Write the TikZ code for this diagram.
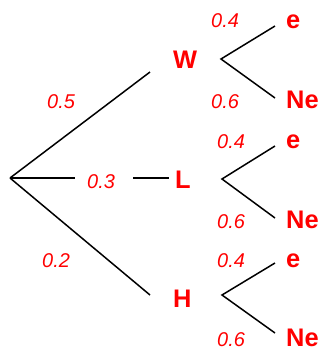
\documentclass[tikz,border=0pt]{standalone}
\usepackage{fontspec}
\setmainfont{Liberation Sans}
\begin{document}
\begin{tikzpicture}[x=1bp,y=-1bp,
  br/.style={draw=black, line width=1.5bp},
  lab/.style={text=red, font=\bfseries\fontsize{25.5}{25.5}\selectfont, inner sep=0pt, anchor=base west},
  prob/.style={text=red, font=\itshape\fontsize{20}{20}\selectfont, inner sep=0pt, anchor=base west}]
\useasboundingbox (0,0) rectangle (324,349);
% first level
\coordinate (root) at (10,178);
\coordinate (Win) at (150,72);
\coordinate (La) at (75,178);
\coordinate (Lb) at (133,178);
\coordinate (Lin) at (169,178);
\coordinate (Hin) at (150,295);
\node[lab] (W) at (173,68) {W};
\node[lab] (L) at (175,188) {L};
\node[lab] (H) at (173,307) {H};
\node[prob] (p05) at (47,108) {0.5};
\node[prob] (p03) at (87,188) {0.3};
\node[prob] (p02) at (42,267) {0.2};
\draw[br] (root) -- (Win);
\draw[br] (root) -- (La);
\draw[br] (Lb) -- (Lin);
\draw[br] (root) -- (Hin);
% second level
\coordinate (Wout) at (221,59);
\coordinate (Lout) at (222,179);
\coordinate (Hout) at (222,295);
\coordinate (We) at (275,26);
\coordinate (WN) at (275,98);
\coordinate (Le) at (275,146);
\coordinate (LN) at (275,218);
\coordinate (He) at (275,263);
\coordinate (HN) at (275,333);
\draw[br] (We) -- (Wout) -- (WN);
\draw[br] (Le) -- (Lout) -- (LN);
\draw[br] (He) -- (Hout) -- (HN);
\node[lab] (eW) at (286,28) {e};
\node[lab] (NW) at (286,108) {Ne};
\node[lab] (eL) at (286,148) {e};
\node[lab] (NL) at (286,228) {Ne};
\node[lab] (eH) at (286,267) {e};
\node[lab] (NH) at (286,346) {Ne};
\node[prob] (q1) at (211,27.5) {0.4};
\node[prob] (q2) at (211,108) {0.6};
\node[prob] (q3) at (217,148) {0.4};
\node[prob] (q4) at (217,228) {0.6};
\node[prob] (q5) at (217,267) {0.4};
\node[prob] (q6) at (217,346) {0.6};
\end{tikzpicture}
\end{document}
